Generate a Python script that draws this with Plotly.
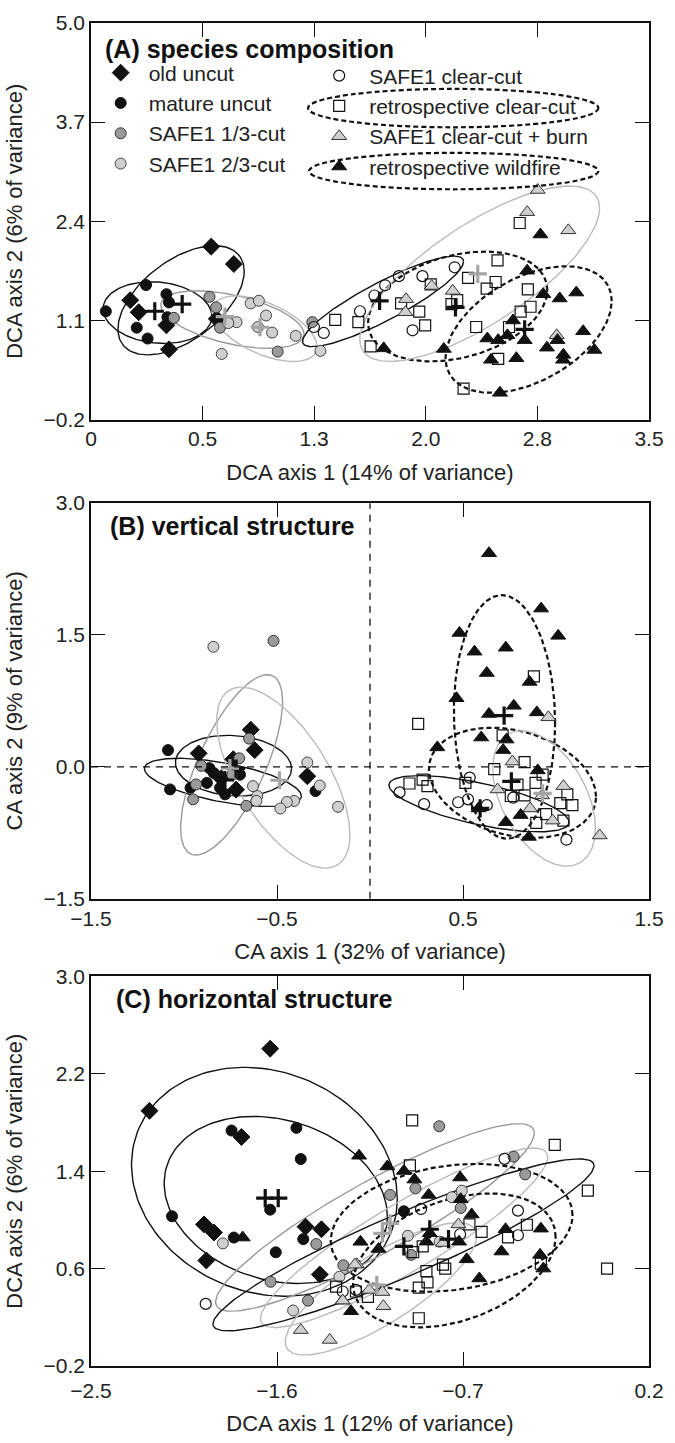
import numpy as np
import plotly.graph_objects as go

# ---------------- data ----------------
GROUPS = ["old uncut", "mature uncut", "SAFE1 1/3-cut", "SAFE1 2/3-cut",
          "SAFE1 clear-cut", "retrospective clear-cut", "SAFE1 clear-cut + burn",
          "retrospective wildfire"]

# Panel A: species composition (DCA)
A_old_x = [0.754, 0.896, 0.246, 0.299, 0.473, 0.489, 0.789]
A_old_y = [2.067, 1.839, 1.365, 1.207, 1.035, 0.720, 1.120]
A_mat_x = [0.093, 0.345, 0.473, 0.489, 0.287, 0.355, 0.479]
A_mat_y = [1.219, 1.564, 1.443, 1.336, 1.004, 0.862, 1.142]
A_c13_x = [0.743, 0.785, 0.809, 1.171, 1.388, 0.520]
A_c13_y = [1.409, 1.271, 1.004, 0.690, 1.077, 1.133]
A_c23_x = [0.913, 0.861, 1.002, 1.053, 1.098, 1.047, 1.136, 1.284, 0.820, 1.439]
A_c23_y = [1.077, 1.065, 1.323, 1.357, 1.164, 1.013, 0.940, 0.897, 0.660, 0.700]
A_clr_x = [1.398, 1.460, 1.687, 1.778, 1.845, 1.931, 2.079, 2.281, 2.017]
A_clr_y = [1.013, 0.935, 1.220, 1.426, 1.560, 1.680, 1.680, 1.796, 0.970]
A_rcc_x = [1.532, 1.677, 1.754, 2.689, 2.550, 2.365, 2.538, 2.482, 2.740, 2.131,
           1.945, 2.059, 2.096, 2.261, 2.297, 2.757, 2.695, 2.416, 2.622, 2.554, 2.337]
A_rcc_y = [1.107, 1.077, 0.760, 2.377, 1.887, 1.658, 1.603, 1.516, 1.507, 1.572,
           1.323, 1.215, 1.035, 1.314, 1.365, 1.279, 1.215, 1.013, 1.013, 0.596, 0.204]
A_brn_x = [2.802, 2.736, 2.994, 2.137, 1.976, 1.972, 2.269, 2.921]
A_brn_y = [2.810, 2.519, 2.281, 1.551, 1.378, 1.207, 1.486, 0.904]
A_wld_x = [2.819, 2.736, 2.837, 2.940, 3.044, 3.087, 3.157, 2.963, 2.961, 2.860, 2.926,
           2.720, 2.668, 2.509, 2.612, 2.647, 2.554, 2.486, 2.213, 1.836, 2.565]
A_wld_y = [2.226, 1.752, 1.443, 1.387, 1.465, 0.957, 0.712, 0.648, 0.583, 0.742, 0.841,
           0.841, 0.604, 0.583, 0.904, 1.099, 0.841, 0.862, 0.725, 0.733, 0.150]
A_cen_x = [0.572, 0.400, 0.840, 1.060, 1.810, 2.286, 2.426, 2.720]
A_cen_y = [1.314, 1.220, 1.150, 1.010, 1.357, 1.271, 1.710, 0.983]
A_ell_cx = [0.565, 0.417, 0.887, 1.088, 1.832, 2.300, 2.438, 2.745]
A_ell_cy = [1.364, 1.202, 1.110, 0.990, 1.349, 1.282, 1.712, 0.980]
A_ell_rx = [0.396, 0.341, 0.449, 0.330, 0.505, 0.562, 0.752, 0.521]
A_ell_ry = [0.716, 0.405, 0.377, 0.430, 0.594, 0.720, 1.150, 0.830]
A_ell_r = [0.53, -0.12, -0.50, -0.55, 0.88, 0.30, 0.75, 0.45]

# Panel B: vertical structure (CA)
B_old_x = [-0.641, -0.620, -0.921, -0.337, -0.735, -0.800, -0.720]
B_old_y = [0.422, 0.190, 0.153, -0.108, 0.086, -0.130, -0.260]
B_mat_x = [-1.086, -1.075, -0.965, -0.864, -0.840, -0.806, -0.779, -0.877, -0.699, -0.293]
B_mat_y = [0.190, -0.257, -0.239, -0.015, -0.070, -0.239, -0.313, -0.183, -0.090, -0.276]
B_c13_x = [-0.519, -0.650, -0.703, -0.907, -0.935, -0.951, -0.665, -0.740]
B_c13_y = [1.433, 0.321, 0.097, 0.011, -0.200, -0.370, -0.444, -0.090]
B_c23_x = [-0.842, -0.337, -0.270, -0.172, -0.408, -0.447, -0.482, -0.606, -0.629, -0.611]
B_c23_y = [1.366, 0.049, -0.213, -0.455, -0.388, -0.400, -0.474, -0.332, -0.220, -0.388]
B_clr_x = [0.159, 0.291, 0.536, 0.474, 0.527, 0.628, 0.770, 1.056]
B_clr_y = [-0.291, -0.425, -0.123, -0.403, -0.370, -0.437, -0.351, -0.829]
B_rcc_x = [0.259, 0.881, 0.713, 0.831, 0.668, 0.928, 0.212, 0.283, 0.309, 0.513,
           0.793, 0.890, 0.757, 0.831, 1.023, 1.061, 1.088, 0.947, 0.894, 1.040]
B_rcc_y = [0.489, 1.030, 0.358, 0.053, -0.026, -0.090, -0.190, -0.146, -0.220, -0.183,
           -0.202, -0.183, -0.332, -0.325, -0.414, -0.314, -0.437, -0.538, -0.638, -0.612]
B_brn_x = [0.959, 0.766, 1.040, 0.686, 0.861, 0.982, 1.235, 0.925]
B_brn_y = [0.563, 0.060, -0.220, -0.258, -0.474, -0.612, -0.781, -0.325]
B_wld_x = [0.640, 0.920, 1.012, 0.481, 0.562, 0.730, 0.628, 0.858, 0.465, 0.773, 0.640,
           0.897, 0.598, 0.734, 0.362, 0.716, 0.902, 0.810, 0.730, 0.854, 0.583]
B_wld_y = [2.430, 1.800, 1.490, 1.523, 1.310, 1.355, 1.067, 0.966, 0.780, 0.694, 0.601,
           0.619, 0.333, 0.310, 0.221, 0.190, -0.041, -0.549, -0.630, -0.798, -0.474]
B_cen_x = [-0.720, -0.780, -0.753, -0.487, 0.592, 0.760, 0.928, 0.721]
B_cen_y = [-0.020, -0.150, -0.015, -0.153, -0.474, -0.165, -0.302, 0.582]
B_ell_cx = [-0.734, -0.791, -0.744, -0.466, 0.586, 0.766, 0.936, 0.723]
B_ell_cy = [0.013, -0.177, 0.022, -0.123, -0.420, -0.182, -0.360, 0.568]
B_ell_rx = [0.312, 0.422, 0.274, 0.358, 0.484, 0.449, 0.276, 0.272]
B_ell_ry = [0.345, 0.274, 1.026, 1.030, 0.320, 0.627, 0.770, 1.385]
B_ell_r = [-0.10, -0.57, 0.70, -0.63, -0.66, -0.25, -0.44, -0.05]

# Panel C: horizontal structure (DCA)
C_old_x = [-1.633, -2.217, -1.772, -1.953, -1.905, -1.942, -1.462, -1.385, -1.393]
C_old_y = [2.406, 1.896, 1.681, 0.963, 0.896, 0.667, 0.944, 0.923, 0.552]
C_mat_x = [-1.820, -1.506, -1.485, -1.633, -2.108, -1.809, -1.606, -1.473, -0.986]
C_mat_y = [1.734, 1.756, 1.500, 1.084, 1.030, 0.855, 0.734, 0.842, 1.071]
C_c13_x = [-1.631, -1.450, -1.279, -1.410, -0.815, -0.455, -0.399, -0.930, -1.053, -0.711, -0.951]
C_c13_y = [0.492, 0.337, 0.627, 0.802, 1.769, 1.519, 1.374, 1.259, 1.205, 1.098, 0.713]
C_c23_x = [-1.862, -1.522, -1.298, -0.706, -0.754, -0.967, -0.813]
C_c23_y = [0.807, 0.256, 0.533, 1.240, 1.186, 0.869, 0.821]
C_clr_x = [-1.945, -1.282, -1.218, -0.499, -0.903, -0.434, -0.434, -0.714]
C_clr_y = [0.310, 0.412, 0.425, 1.501, 1.090, 1.076, 0.874, 0.882]
C_rcc_x = [-0.946, -0.256, -0.096, -0.003, -0.957, -0.391, -0.610, -0.482, -0.669, -0.895,
           -0.941, -0.797, -0.786, -0.877, -0.872, -0.914, -0.914, -0.323, -1.314, -1.218, -1.160]
C_rcc_y = [1.818, 1.616, 1.240, 0.600, 1.447, 0.960, 0.902, 0.856, 0.963, 0.783,
           0.735, 0.632, 0.600, 0.579, 0.487, 0.444, 0.192, 0.640, 0.452, 0.412, 0.367]
C_brn_x = [-1.485, -1.345, -1.283, -1.214, -1.154, -0.722, -0.797, -1.223, -1.090, -1.085, -1.282]
C_brn_y = [0.095, 0.014, 0.337, 0.635, 0.425, 0.963, 0.810, 0.632, 0.407, 0.291, 0.337]
C_wld_x = [-1.203, -1.766, -1.196, -1.109, -1.242, -1.066, -0.986, -0.935, -0.714, -0.866, -0.711,
           -0.658, -0.861, -0.877, -0.719, -0.494, -0.323, -0.514, -0.682, -0.327, -0.311, -0.621]
C_wld_y = [1.527, 0.855, 0.820, 0.761, 0.250, 1.439, 1.402, 1.331, 1.348, 1.205, 1.170,
           1.044, 0.890, 0.821, 0.821, 0.923, 0.928, 0.740, 0.676, 0.713, 0.600, 0.519]
C_cen_x = [-1.657, -1.594, -1.053, -1.090, -0.986, -0.770, -1.117, -0.861]
C_cen_y = [1.178, 1.178, 0.971, 0.890, 0.783, 0.842, 0.466, 0.923]
C_ell_cx = [-1.661, -1.606, -1.126, -0.985, -0.988, -0.755, -1.097, -0.742]
C_ell_cy = [1.313, 1.164, 1.020, 0.853, 0.795, 0.935, 0.433, 0.667]
C_ell_rx = [0.643, 0.540, 0.771, 0.695, 0.922, 0.585, 0.463, 0.490]
C_ell_ry = [0.940, 0.686, 0.770, 0.737, 0.706, 0.525, 0.543, 0.550]
C_ell_r = [-0.15, -0.20, 0.90, 0.90, 0.92, 0.20, 0.80, 0.35]

# axis ticks
A_xticks = [0, 0.7, 1.4, 2.1, 2.8, 3.5]
A_xtext = ["0", "0.5", "1.3", "2.0", "2.8", "3.5"]
A_yticks = [-0.2, 1.1, 2.4, 3.7, 5.0]
B_xticks = [-1.5, -0.5, 0.5, 1.5]
B_yticks = [-1.5, 0.0, 1.5, 3.0]
C_xticks = [-2.5, -1.6, -0.7, 0.2]
C_yticks = [-0.2, 0.6, 1.4, 2.2, 3.0]

# ---------------- styles ----------------
FONT = "Liberation Sans, Arial, Helvetica, sans-serif"
BLK = "#111111"
SYM = [
    dict(symbol="diamond", size=13, color=BLK, line=dict(color=BLK, width=1)),
    dict(symbol="circle", size=11, color=BLK, line=dict(color=BLK, width=1)),
    dict(symbol="circle", size=11, color="#9a9a9a", line=dict(color="#333333", width=1)),
    dict(symbol="circle", size=11, color="#cfcfcf", line=dict(color="#444444", width=1)),
    dict(symbol="circle-open", size=11, color=BLK, line=dict(color=BLK, width=1.2)),
    dict(symbol="square-open", size=11, color=BLK, line=dict(color=BLK, width=1.2)),
    dict(symbol="triangle-up", size=13, color="#cfcfcf", line=dict(color="#333333", width=1)),
    dict(symbol="triangle-up", size=13, color=BLK, line=dict(color=BLK, width=1)),
]
ELL = [
    dict(color=BLK, width=1.4, dash="solid"),
    dict(color=BLK, width=1.4, dash="solid"),
    dict(color="#999999", width=1.4, dash="solid"),
    dict(color="#bbbbbb", width=1.4, dash="solid"),
    dict(color=BLK, width=1.4, dash="solid"),
    dict(color=BLK, width=2.2, dash="5px,3px"),
    dict(color="#bbbbbb", width=1.4, dash="solid"),
    dict(color=BLK, width=2.2, dash="5px,3px"),
]
CEN_COL = [BLK, BLK, "#a5a5a5", "#a5a5a5", BLK, BLK, "#a5a5a5", BLK]

panels = [
    dict(xa="x", ya="y",
         pts=[(A_old_x, A_old_y), (A_mat_x, A_mat_y), (A_c13_x, A_c13_y), (A_c23_x, A_c23_y),
              (A_clr_x, A_clr_y), (A_rcc_x, A_rcc_y), (A_brn_x, A_brn_y), (A_wld_x, A_wld_y)],
         cen=(A_cen_x, A_cen_y), ell=(A_ell_cx, A_ell_cy, A_ell_rx, A_ell_ry, A_ell_r)),
    dict(xa="x2", ya="y2",
         pts=[(B_old_x, B_old_y), (B_mat_x, B_mat_y), (B_c13_x, B_c13_y), (B_c23_x, B_c23_y),
              (B_clr_x, B_clr_y), (B_rcc_x, B_rcc_y), (B_brn_x, B_brn_y), (B_wld_x, B_wld_y)],
         cen=(B_cen_x, B_cen_y), ell=(B_ell_cx, B_ell_cy, B_ell_rx, B_ell_ry, B_ell_r)),
    dict(xa="x3", ya="y3",
         pts=[(C_old_x, C_old_y), (C_mat_x, C_mat_y), (C_c13_x, C_c13_y), (C_c23_x, C_c23_y),
              (C_clr_x, C_clr_y), (C_rcc_x, C_rcc_y), (C_brn_x, C_brn_y), (C_wld_x, C_wld_y)],
         cen=(C_cen_x, C_cen_y), ell=(C_ell_cx, C_ell_cy, C_ell_rx, C_ell_ry, C_ell_r)),
]


def ellipse(cx, cy, rx, ry, r, n=160):
    t = np.linspace(0, 2 * np.pi, n)
    x = cx + rx * np.cos(t)
    y = cy + ry * (r * np.cos(t) + np.sqrt(1 - r * r) * np.sin(t))
    return x, y


fig = go.Figure()
for pi, p in enumerate(panels):
    cx, cy, rx, ry, rr = p["ell"]
    for g in range(8):
        ex, ey = ellipse(cx[g], cy[g], rx[g], ry[g], rr[g])
        fig.add_trace(go.Scatter(x=ex, y=ey, mode="lines", line=ELL[g], xaxis=p["xa"], yaxis=p["ya"],
                                 showlegend=False, hoverinfo="skip"))
    for g in range(8):
        gx, gy = p["pts"][g]
        fig.add_trace(go.Scatter(x=gx, y=gy, mode="markers", name=GROUPS[g], marker=SYM[g],
                                 xaxis=p["xa"], yaxis=p["ya"], showlegend=(pi == 0),
                                 legend=("legend" if g < 4 else "legend2")))
    for g in range(8):
        fig.add_trace(go.Scatter(x=[p["cen"][0][g]], y=[p["cen"][1][g]], mode="markers",
                                 marker=dict(symbol="cross-thin", size=13,
                                             line=dict(color=CEN_COL[g], width=3.2)),
                                 xaxis=p["xa"], yaxis=p["ya"], showlegend=False, hoverinfo="skip"))

# ---------------- layout ----------------
H = 1443
T, B = 11, 67
PH = H - T - B


def py2p(py):
    return (H - B - py) / PH


def axis_common():
    return dict(showline=True, linecolor=BLK, linewidth=1.5, mirror="ticks", ticks="inside",
                ticklen=14, tickwidth=1.3, tickcolor=BLK, showgrid=False, zeroline=False,
                tickfont=dict(family=FONT, size=21, color="#222"))


def title(text, standoff=None):
    d = dict(text=text, font=dict(family=FONT, size=22, color="#222"))
    if standoff is not None:
        d["standoff"] = standoff
    return d


lay = dict(
    width=675, height=H, plot_bgcolor="white", paper_bgcolor="white",
    margin=dict(l=91, r=21, t=T, b=B),
    font=dict(family=FONT, color="#222"),
    xaxis=dict(**axis_common(), domain=[0, 1], anchor="y", range=[0, 3.5],
               tickvals=A_xticks, ticktext=A_xtext, title=title("DCA axis 1 (14% of variance)")),
    yaxis=dict(**axis_common(), domain=[py2p(414), 1], anchor="x", range=[-0.2, 5.0],
               tickvals=A_yticks, tickformat=".1f", title=title("DCA axis 2 (6% of variance)")),
    xaxis2=dict(**axis_common(), domain=[0, 1], anchor="y2", range=[-1.5, 1.5],
                tickvals=B_xticks, tickformat=".1f", title=title("CA axis 1 (32% of variance)")),
    yaxis2=dict(**axis_common(), domain=[py2p(901), py2p(499)], anchor="x2", range=[-1.5, 3.0],
                tickvals=B_yticks, tickformat=".1f", title=title("CA axis 2 (9% of variance)")),
    xaxis3=dict(**axis_common(), domain=[0, 1], anchor="y3", range=[-2.5, 0.2],
                tickvals=C_xticks, tickformat=".1f", ticklabelstandoff=5,
                title=title("DCA axis 1 (12% of variance)")),
    yaxis3=dict(**axis_common(), domain=[0, py2p(980)], anchor="x3", range=[-0.2, 3.0],
                tickvals=C_yticks, tickformat=".1f", title=title("DCA axis 2 (6% of variance)")),
    legend=dict(x=0.003, y=py2p(41), xanchor="left", yanchor="top", bgcolor="rgba(0,0,0,0)",
                font=dict(family=FONT, size=21, color="#222"), itemwidth=46, tracegroupgap=0),
    legend2=dict(x=0.391, y=py2p(44), xanchor="left", yanchor="top", bgcolor="rgba(0,0,0,0)",
                 font=dict(family=FONT, size=21, color="#222"), itemwidth=50, tracegroupgap=0),
    showlegend=True,
)
fig.update_layout(**lay)

PW = 675 - 91 - 21


def px2p(px):
    return (px - 91) / PW


shapes = [
    dict(type="circle", xref="paper", yref="paper", x0=px2p(310), x1=px2p(603),
         y0=py2p(117), y1=py2p(78), line=dict(color=BLK, width=2.2, dash="5px,3px")),
    dict(type="circle", xref="paper", yref="paper", x0=px2p(311), x1=px2p(603),
         y0=py2p(180), y1=py2p(143), line=dict(color=BLK, width=2.2, dash="5px,3px")),
    dict(type="line", xref="x2", yref="y2 domain", x0=0, x1=0, y0=0, y1=1,
         line=dict(color=BLK, width=1.3, dash="7px,6px")),
    dict(type="line", xref="x2 domain", yref="y2", x0=0, x1=1, y0=0, y1=0,
         line=dict(color=BLK, width=1.3, dash="7px,6px")),
]
fig.update_layout(shapes=shapes)

ann = [
    ("(A) species composition", 103, 37),
    ("(B) vertical structure", 108, 522),
    ("(C) horizontal structure", 114, 1003),
]
fig.update_layout(annotations=[
    dict(text="<b>" + t + "</b>", x=px2p(x), y=py2p(y), xref="paper", yref="paper", xanchor="left",
         yanchor="middle", showarrow=False, font=dict(family=FONT, size=25, color="#111"))
    for t, x, y in ann
])

fig.write_html("out.html")
